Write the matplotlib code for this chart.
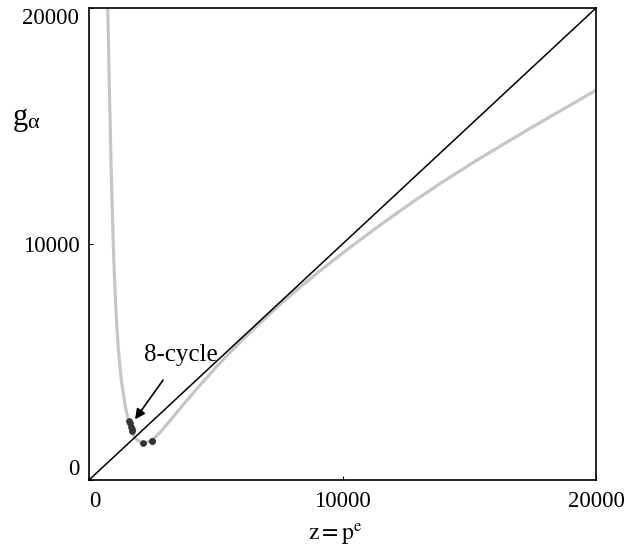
#Plot of the map g_alpha(z) against the diagonal, with the 8-cycle points marked.
import matplotlib
matplotlib.use("Agg")
import matplotlib.pyplot as plt

plt.rcParams['font.family'] = ['Liberation Serif', 'DejaVu Serif']
plt.rcParams['mathtext.fontset'] = 'stix'

# gray curve g_alpha(z)
z_curve = [740, 800, 850, 900, 950, 1000, 1050, 1100, 1150, 1220, 1290, 1420,
           1550, 1657, 1815, 2012, 2209, 2497, 2800, 3195, 3720, 4300, 5037,
           5562, 6221, 7140, 7799, 8400, 9112, 10166, 11479, 12781, 14000,
           15424, 17500, 20000]
g_curve = [20000, 16700, 14250, 12100, 10250, 8700, 7450, 6450, 5650, 4775,
           4110, 3178, 2542, 2119, 1780, 1610, 1570, 1700, 2018, 2512, 3195,
           3926, 4810, 5403, 6115, 7052, 7685, 8238, 8865, 9750, 10800, 11790,
           12668, 13636, 14965, 16515]

# diagonal g = z
z_diag = [0, 20000]
g_diag = [0, 20000]

# points of the 8-cycle
z_cycle = [1578, 1610, 1645, 1677, 1708, 2142, 2497, 2465]
g_cycle = [2500, 2394, 2258, 2161, 2076, 1581, 1665, 1653]

ticks = [0, 10000, 20000]
tick_labels = ['0', '10000', '20000']

fig = plt.figure(figsize=(6.35, 5.49), dpi=100)
ax = fig.add_axes([0.1402, 0.1257, 0.7984, 0.8597])

ax.plot(z_diag, g_diag, color='black', linewidth=1.1, zorder=3)
ax.plot(z_curve, g_curve, color='#c6c6c6', linewidth=2.3, zorder=2,
        solid_joinstyle='round')
ax.plot(z_cycle, g_cycle, linestyle='none', marker='o', markersize=3.8,
        color='#333333', zorder=4)

# annotation with arrow
ax.annotate('8-cycle', xy=(1815, 2572), xytext=(3629, 5297),
            ha='center', va='center', fontsize=18,
            arrowprops=dict(arrowstyle='-|>', color='black', lw=1.2,
                            mutation_scale=15, shrinkA=10, shrinkB=0))

ax.set_xlim(0, 20000)
ax.set_ylim(0, 20000)
ax.set_xticks(ticks)
ax.set_xticklabels(tick_labels)
ax.set_yticks(ticks)
ax.set_yticklabels(tick_labels)
ax.tick_params(axis='both', direction='in', length=3, width=0.8, labelsize=16.5)
ax.tick_params(axis='x', pad=8)
ax.tick_params(axis='y', pad=7)

# nudge the corner labels like in the original
ax.get_xticklabels()[0].set_ha('left')
ax.get_yticklabels()[0].set_va('bottom')
ax.get_yticklabels()[2].set_va('top')

for s in ax.spines.values():
    s.set_linewidth(1.2)
    s.set_color('black')

# axis labels placed by hand
fig.text(20 / 635, 1 - 118 / 549, 'g', fontsize=22, ha='center', va='center')
fig.text(33 / 635, 1 - 124 / 549, 'α', fontsize=16, ha='center', va='center')
fig.text(335 / 635, 1 - 535 / 549, r'$\mathrm{z{=}p^{e}}$', fontsize=17,
         ha='center', va='center')

fig.savefig('out.png', dpi=100)
